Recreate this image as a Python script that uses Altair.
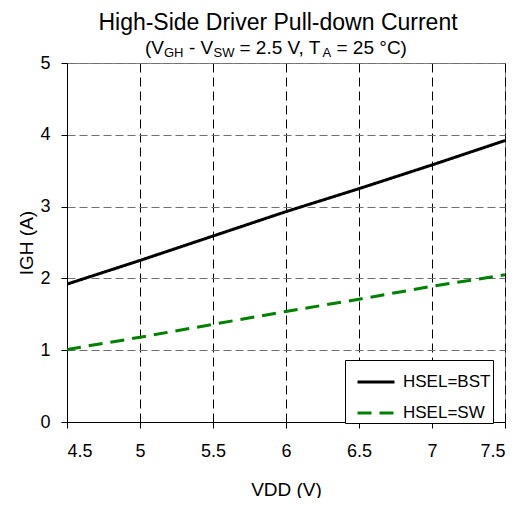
import altair as alt
import pandas as pd

# ---- data ----
vdd = [4.5, 5.0, 5.5, 6.0, 6.5, 7.0, 7.5]
igh_bst = [1.92, 2.25, 2.59, 2.93, 3.25, 3.58, 3.92]
igh_sw = [1.01, 1.18, 1.36, 1.54, 1.71, 1.89, 2.05]
series = ["HSEL=BST", "HSEL=SW"]
x_ticks = [4.5, 5, 5.5, 6, 6.5, 7, 7.5]
y_ticks = [0, 1, 2, 3, 4, 5]

title_text = "High-Side Driver Pull-down Current"
# subtitle pieces: (text, x offset in px from plot left, is_subscript)
subtitle_parts = [
    ("(V", 78, False), ("GH", 97, True), ("- V", 122, False), ("SW", 146.5, True),
    ("= 2.5 V, T", 172.5, False), ("A", 255.5, True), ("= 25 °C)", 269.5, False),
]

FONT = "Liberation Sans"
W, H = 438, 359

df = pd.DataFrame({
    "VDD": vdd * 2,
    "IGH": igh_bst + igh_sw,
    "series": [series[0]] * len(vdd) + [series[1]] * len(vdd),
})

legend = alt.Legend(title=None, orient="none", legendX=278, legendY=297,
                    labelExpr="datum.label + '   '")

lines = alt.Chart(df).mark_line(strokeWidth=3, clip=True).encode(
    x=alt.X("VDD:Q",
            scale=alt.Scale(domain=[4.5, 7.5], nice=False, zero=False),
            axis=alt.Axis(title="VDD (V)", values=x_ticks, format="~g", gridColor="black",
                          gridDash=[9, 5], gridWidth=1, labelPadding=14,
                          titlePadding=20)),
    y=alt.Y("IGH:Q",
            scale=alt.Scale(domain=[0, 5], nice=False),
            axis=alt.Axis(title="IGH (A)", values=y_ticks, gridColor="#707070",
                          gridDash=[8, 4], gridWidth=1.2, labelPadding=11,
                          titlePadding=3)),
    color=alt.Color("series:N", scale=alt.Scale(domain=series, range=["black", "#008000"]),
                    legend=legend),
    strokeDash=alt.StrokeDash("series:N",
                              scale=alt.Scale(domain=series, range=[[1, 0], [14, 8]]),
                              legend=legend),
)

layers = [lines]

layers.append(
    alt.Chart(alt.Data(values=[{}])).mark_text(
        font=FONT, fontSize=23, align="center", baseline="alphabetic", color="black"
    ).encode(x=alt.value(211), y=alt.value(-33.5), text=alt.value(title_text))
)
for txt, px, is_sub in subtitle_parts:
    layers.append(
        alt.Chart(alt.Data(values=[{}])).mark_text(
            font=FONT, fontSize=13 if is_sub else 19, align="left",
            baseline="alphabetic", color="black"
        ).encode(x=alt.value(px), y=alt.value(-6 if is_sub else -9), text=alt.value(txt))
    )

chart = alt.layer(*layers).properties(
    width=W, height=H,
    autosize=alt.AutoSizeParams(type="none"),
    padding={"left": 59, "top": 55, "right": 9, "bottom": 76},
).configure_view(
    stroke="#808080", strokeWidth=1
).configure_axis(
    domainColor="black", domainWidth=1, tickColor="black", tickSize=6,
    labelFont=FONT, labelFontSize=18, labelColor="black",
    titleFont=FONT, titleFontSize=19, titleFontWeight="normal", titleColor="black",
).configure_legend(
    labelFont=FONT, labelFontSize=17, labelColor="black",
    symbolType="stroke", symbolSize=1369, symbolStrokeWidth=3,
    strokeColor="black", fillColor="white", padding=2, rowPadding=3,
    cornerRadius=0, labelOffset=7, symbolOffset=9,
)

chart.save("out.html", embed_options={"renderer": "svg", "actions": False})
